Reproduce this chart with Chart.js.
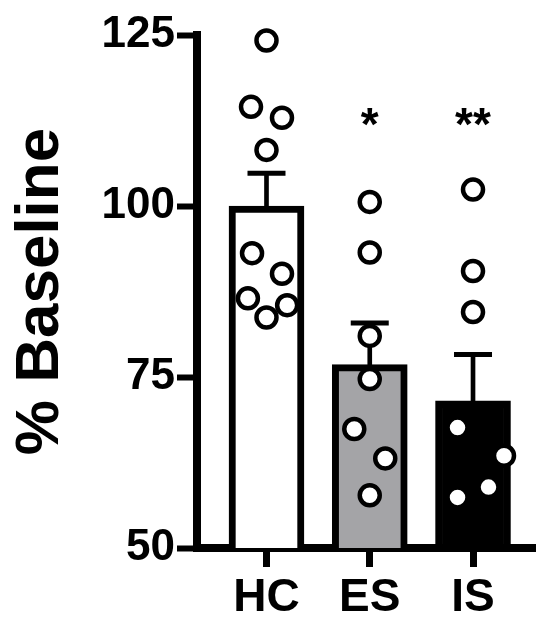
<!DOCTYPE html>
<html>
<head>
<meta charset="utf-8">
<script src="https://cdn.jsdelivr.net/npm/chart.js@4"></script>
<style>
  body { margin: 0; background: #fff; }
  canvas { display: block; }
</style>
</head>
<body>
<canvas id="chart" width="536" height="620"></canvas>
<script>
// groups and summary values (mean, SEM)
const groups = ['HC', 'ES', 'IS'];
const means = [100, 76.8, 71.5];
const sems = [4.8, 6.1, 6.8];
const sigMarks = ['', '*', '**'];

// individual animals, % baseline
const hcValues = [124.2, 114.5, 112.9, 108.2, 93.1, 90.1, 86.5, 85.5, 83.7];
const esValues = [100.6, 93.2, 81.0, 74.7, 67.4, 63.1, 57.7];
const isValues = [102.4, 90.5, 84.5, 67.6, 63.5, 58.9, 57.4];

// horizontal scatter of the dots around each bar centre (category units)
const hcJitter = [0, -0.15, 0.15, 0, -0.14, 0.15, -0.18, 0.2, 0];
const esJitter = [0, 0, 0, 0, -0.15, 0.15, 0];
const isJitter = [0, 0, 0, -0.15, 0.3, 0.15, -0.15];

const yTicks = [50, 75, 100, 125];

Chart.defaults.font.family = '"Liberation Sans", Arial, Helvetica, sans-serif';
Chart.defaults.font.weight = 'bold';
Chart.defaults.color = '#000';

const dotSets = [hcValues, esValues, isValues];
const jitterSets = [hcJitter, esJitter, isJitter];
const dots = [];
dotSets.forEach((vals, g) => {
    vals.forEach((v, k) => dots.push({ x: g + jitterSets[g][k], y: v }));
});

// asterisks above the treated groups
const sigPlugin = {
    id: 'sigMarks',
    afterDatasetsDraw(chart) {
        const { ctx, scales: { x, y } } = chart;
        ctx.save();
        ctx.font = 'bold 46px "Liberation Sans", Arial, sans-serif';
        ctx.textAlign = 'center';
        ctx.textBaseline = 'alphabetic';
        ctx.fillStyle = '#000';
        sigMarks.forEach((m, i) => {
            if (m) ctx.fillText(m, x.getPixelForValue(i), y.getPixelForValue(109.6));
        });
        ctx.restore();
    }
};

new Chart(document.getElementById('chart'), {
    type: 'bar',
    data: {
        datasets: [
            {
                type: 'scatter',
                data: dots,
                pointRadius: 10,
                pointBorderWidth: 4.5,
                pointBackgroundColor: '#fff',
                pointBorderColor: '#000',
                clip: false,
                order: 0
            },
            {
                // SEM caps
                type: 'scatter',
                data: means.map((m, i) => ({ x: i, y: m + sems[i] })),
                pointStyle: 'line',
                pointRadius: 19,
                pointBorderWidth: 5,
                pointBorderColor: '#000',
                order: 1
            },
            {
                // SEM stems
                type: 'bar',
                data: means.map((m, i) => ({ x: i, y: [m, m + sems[i]] })),
                backgroundColor: '#000',
                borderWidth: 0,
                barThickness: 4,
                grouped: false,
                order: 2
            },
            {
                type: 'bar',
                data: means.map((m, i) => ({ x: i, y: m })),
                backgroundColor: ['#ffffff', '#a4a4a7', '#000000'],
                borderColor: '#000',
                borderWidth: 7,
                barThickness: 75,
                grouped: false,
                order: 3
            }
        ]
    },
    options: {
        responsive: false,
        animation: false,
        layout: { autoPadding: false, padding: { top: 35, right: 0, bottom: 0, left: 0 } },
        plugins: {
            legend: { display: false },
            tooltip: { enabled: false }
        },
        scales: {
            x: {
                type: 'linear',
                offset: false,
                min: -0.673,
                max: 2.61,
                afterBuildTicks: scale => {
                    scale.ticks = groups.map((g, i) => ({ value: i }));
                },
                afterFit: scale => { scale.height = 72; },
                ticks: {
                    font: { size: 46, weight: 'bold', lineHeight: 1 },
                    padding: 8,
                    callback: v => groups[v] ?? ''
                },
                grid: {
                    offset: false,
                    drawOnChartArea: false,
                    tickLength: 19,
                    tickWidth: 7,
                    tickColor: '#000'
                },
                border: { display: true, width: 8, color: '#000' }
            },
            y: {
                min: 50,
                max: 125,
                afterBuildTicks: scale => {
                    scale.ticks = yTicks.map(v => ({ value: v }));
                },
                afterFit: scale => { scale.width = 197; },
                ticks: {
                    font: { size: 44, weight: 'bold', lineHeight: 1.2 },
                    padding: 2
                },
                grid: {
                    drawOnChartArea: false,
                    tickLength: 20,
                    tickWidth: 6,
                    tickColor: '#000'
                },
                border: { display: true, width: 8, color: '#000' },
                title: {
                    display: true,
                    text: '% Baseline',
                    font: { size: 62, weight: 'bold', lineHeight: 1 },
                    padding: { top: 10, bottom: 0 }
                }
            }
        }
    },
    plugins: [sigPlugin]
});
</script>
</body>
</html>
